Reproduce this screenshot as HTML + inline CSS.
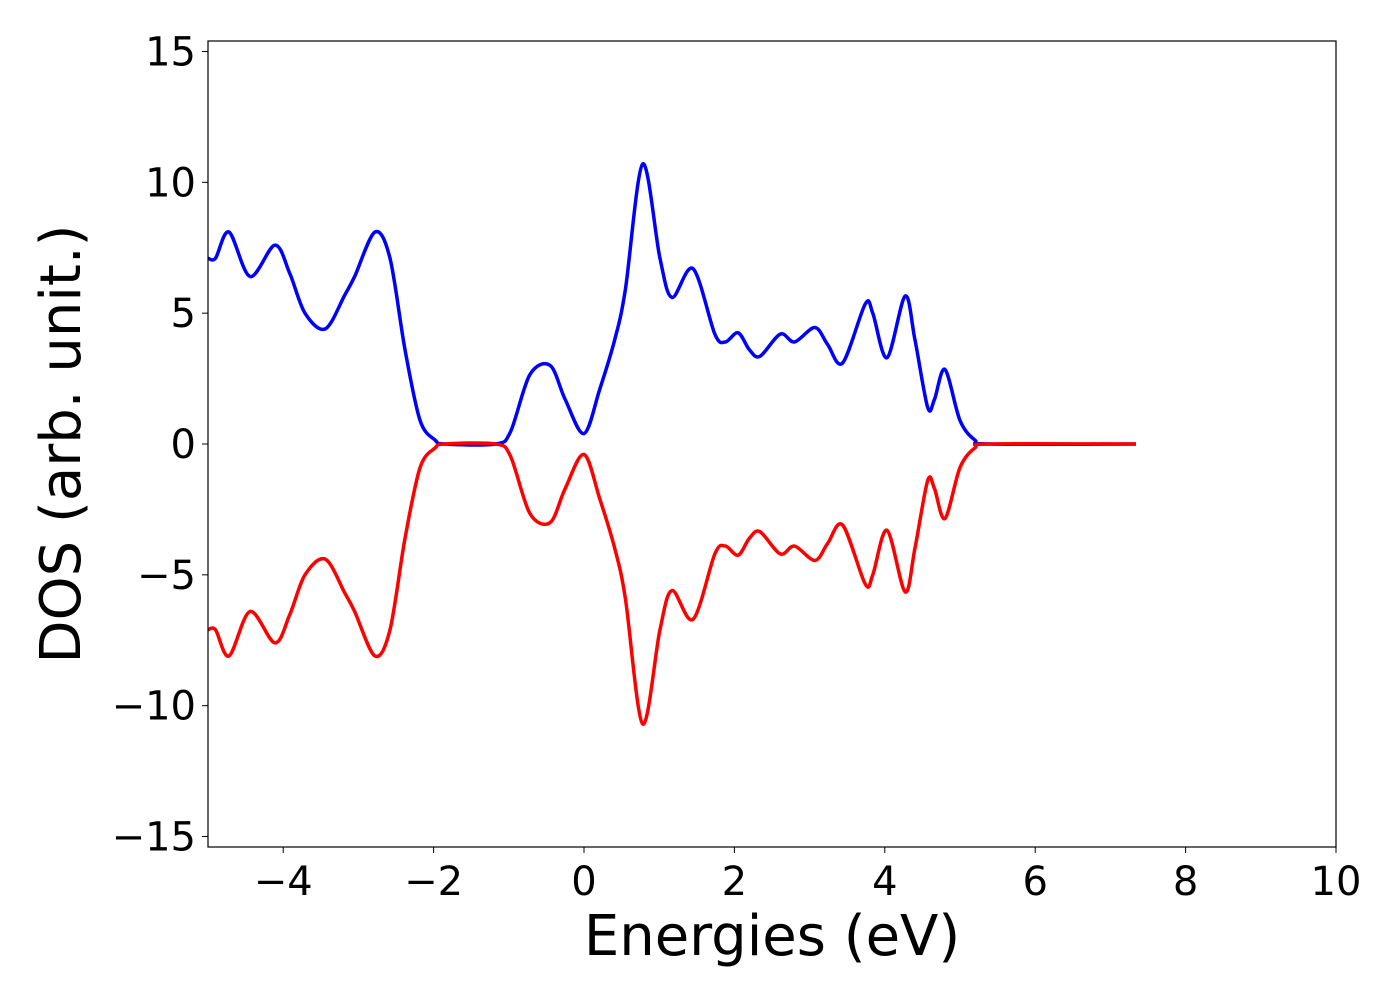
<!DOCTYPE html>
<html><head><meta charset="utf-8"><style>
body{margin:0;background:#fff}
svg text{font-family:"DejaVu Sans","Liberation Sans",sans-serif;fill:#000}
</style></head><body>
<svg id="chart" width="1400" height="1000" xmlns="http://www.w3.org/2000/svg">
<rect x="0" y="0" width="1400" height="1000" fill="#fff"/>
<g id="ticks"></g>
<g id="series"></g>
<rect x="208" y="41" width="1128" height="806" fill="none" stroke="#000" stroke-width="1.2"/>
<text x="772" y="955" font-size="56" text-anchor="middle">Energies (eV)</text>
<text transform="translate(80,444) rotate(-90)" font-size="56" text-anchor="middle">DOS (arb. unit.)</text>
</svg>
<script>
const energies=[-5,-4.9,-4.72,-4.44,-4.11,-3.91,-3.71,-3.44,-3.18,-3.05,-2.78,-2.58,-2.38,-2.18,-1.98,-1.85,-1.18,-0.98,-0.72,-0.45,-0.25,0,0.21,0.41,0.55,0.78,1.01,1.17,1.45,1.74,1.88,2.05,2.2,2.34,2.61,2.8,3.07,3.24,3.44,3.74,3.84,4.03,4.27,4.4,4.57,4.66,4.8,5.0,5.2,5.4,7.34];
const dosUp=[7.1,7.1,8.1,6.4,7.6,6.5,5.0,4.4,5.7,6.4,8.1,7.1,3.6,0.9,0.15,0,0,0.45,2.65,3.0,1.7,0.4,2.1,4.0,5.9,10.7,7.1,5.6,6.7,4.2,3.9,4.25,3.6,3.35,4.2,3.9,4.45,3.8,3.1,5.35,5.0,3.3,5.65,4.0,1.4,1.7,2.85,0.9,0.15,0,0];
const dosDown=[-7.1,-7.1,-8.1,-6.4,-7.6,-6.5,-5.0,-4.4,-5.7,-6.4,-8.1,-7.1,-3.6,-0.9,-0.15,0,0,-0.45,-2.65,-3.0,-1.7,-0.4,-2.1,-4.0,-5.9,-10.7,-7.1,-5.6,-6.7,-4.2,-3.9,-4.25,-3.6,-3.35,-4.2,-3.9,-4.45,-3.8,-3.1,-5.35,-5.0,-3.3,-5.65,-4.0,-1.4,-1.7,-2.85,-0.9,-0.15,0,0];
const xTicks=[-4,-2,0,2,4,6,8,10];
const yTicks=[-15,-10,-5,0,5,10,15];
const X0=208,X1=1336,Y0=847,Y1=41,xmin=-5,xmax=10,ymin=-15.4,ymax=15.4;
const sx=v=>X0+(v-xmin)/(xmax-xmin)*(X1-X0);
const sy=v=>Y0-(v-ymin)/(ymax-ymin)*(Y0-Y1);
const NS="http://www.w3.org/2000/svg";
const tg=document.getElementById('ticks');
function fmt(v){return v<0?"\u2212"+Math.abs(v):String(v);}
xTicks.forEach(v=>{
 const l=document.createElementNS(NS,'line');
 
 
 l.setAttribute('x1',sx(v));l.setAttribute('x2',sx(v));l.setAttribute('y1',Y0);l.setAttribute('y2',Y0+6);l.setAttribute('stroke','#000');tg.appendChild(l);
 const t=document.createElementNS(NS,'text');
 
 
 t.setAttribute('x',sx(v));t.setAttribute('y',Y0+48);t.setAttribute('font-size','40');t.setAttribute('text-anchor','middle');t.textContent=fmt(v);tg.appendChild(t);
});
yTicks.forEach(v=>{
 const l=document.createElementNS(NS,'line');
 
 
 l.setAttribute('x1',X0-6);l.setAttribute('x2',X0);l.setAttribute('y1',sy(v));l.setAttribute('y2',sy(v));l.setAttribute('stroke','#000');tg.appendChild(l);
 const t=document.createElementNS(NS,'text');
 
 
 t.setAttribute('x',X0-12);t.setAttribute('y',sy(v)+14);t.setAttribute('font-size','40');t.setAttribute('text-anchor','end');t.textContent=fmt(v);tg.appendChild(t);
});
function pathFor(ys){
 const p=energies.map((e,i)=>[sx(e),sy(ys[i])]);
 let d="M"+p[0][0]+","+p[0][1];
 for(let i=0;i<p.length-1;i++){
  const p0=p[Math.max(0,i-1)],p1=p[i],p2=p[i+1],p3=p[Math.min(p.length-1,i+2)];
  const t=0.16;
  const c1=[p1[0]+(p2[0]-p0[0])*t,p1[1]+(p2[1]-p0[1])*t];
  const c2=[p2[0]-(p3[0]-p1[0])*t,p2[1]-(p3[1]-p1[1])*t];
  d+=" C"+c1[0]+","+c1[1]+" "+c2[0]+","+c2[1]+" "+p2[0]+","+p2[1];
 }
 return d;
}
const sg=document.getElementById('series');
[[dosUp,'#0000ff','dos-spin-up-line'],[dosDown,'#ff0000','dos-spin-down-line']].forEach(([ys,c,n])=>{
 const pth=document.createElementNS(NS,'path');
 
 
 pth.setAttribute('d',pathFor(ys));pth.setAttribute('fill','none');pth.setAttribute('stroke',c);pth.setAttribute('stroke-width','3.5');pth.setAttribute('stroke-linejoin','round');
 sg.appendChild(pth);
});
</script>
</body></html>
